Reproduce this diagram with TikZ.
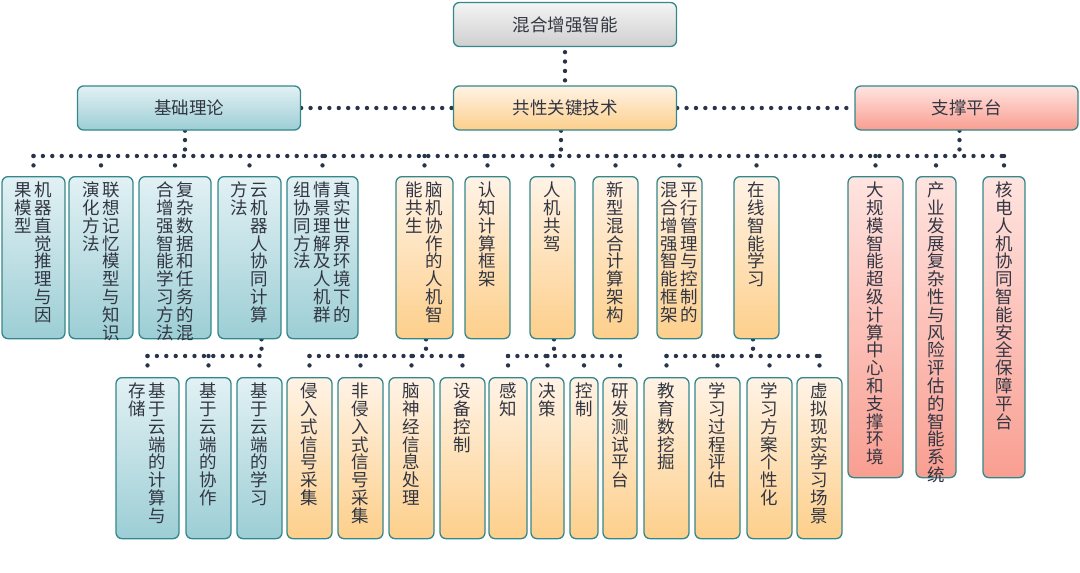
\documentclass[tikz,border=0pt]{standalone}
\usepackage{fontspec}
\setmainfont{Noto Sans CJK SC}
\usetikzlibrary{backgrounds}
\definecolor{lineTeal}{RGB}{52,135,138}
\definecolor{dotNavy}{RGB}{40,52,74}
\definecolor{txtGray}{RGB}{50,54,66}
\definecolor{blueTop}{RGB}{226,241,244}
\definecolor{blueBot}{RGB}{156,206,213}
\definecolor{orangeTop}{RGB}{255,243,230}
\definecolor{orangeBot}{RGB}{253,207,139}
\definecolor{redTop}{RGB}{255,228,224}
\definecolor{redBot}{RGB}{249,158,145}
\definecolor{grayTop}{RGB}{244,244,244}
\definecolor{grayBot}{RGB}{207,207,207}

% vertical column of characters, one per row
\makeatletter
\newcommand\colstack[1]{\vtop{\baselineskip=17.8pt\lineskiplimit=-20pt%
  \@tfor\vch:=#1\do{\hbox to 17.5pt{\hss\vch\hss}}}}
\makeatother
\newcommand\colgap{\hskip2.5pt}

\tikzset{
  box/.style={draw=lineTeal, line width=1.3pt, rounded corners=6pt, inner sep=0pt,
    text=txtGray, font=\fontsize{17.5pt}{17.8pt}\selectfont},
  headbox/.style={box, minimum width=223pt, minimum height=44pt},
  colbox/.style={box, anchor=north, minimum width=#1, text height=20pt},
  lvtwo/.style={text depth=142pt},
  lvtall/.style={text depth=281pt},
  lvthree/.style={text depth=141pt},
  fillGray/.style={top color=grayTop, bottom color=grayBot},
  fillBlue/.style={top color=blueTop, bottom color=blueBot},
  fillOrange/.style={top color=orangeTop, bottom color=orangeBot},
  fillRed/.style={top color=redTop, bottom color=redBot},
  link/.style={draw=dotNavy, line width=4.4pt, line cap=round, dash pattern=on 0pt off 9.4pt},
}

\begin{document}
\begin{tikzpicture}[x=1pt,y=-1pt]
  \useasboundingbox (0,0) rectangle (1080,573);

  % Top levels
  \node[headbox, fillGray] (root) at (565,24.5) {混合增强智能};
  \node[headbox, fillBlue] (theory) at (189,108) {基础理论};
  \node[headbox, fillOrange] (tech) at (565,108) {共性关键技术};
  \node[headbox, fillRed] (support) at (966.5,108) {支撑平台};

  % Foundation theory
  \node[colbox=63pt, lvtwo, fillBlue] (b1) at (33.5,176) {\colstack{果模型}\colgap\colstack{机器直觉推理与因}};
  \node[colbox=64pt, lvtwo, fillBlue] (b2) at (101,176) {\colstack{演化方法}\colgap\colstack{联想记忆模型与知识}};
  \node[colbox=72pt, lvtwo, fillBlue] (b3) at (175,176) {\colstack{合增强智能学习方法}\colgap\colstack{复杂数据和任务的混}};
  \node[colbox=63pt, lvtwo, fillBlue] (b4) at (249.5,176) {\colstack{方法}\colgap\colstack{云机器人协同计算}};
  \node[colbox=71pt, lvtwo, fillBlue] (b5) at (322.5,176) {\colstack{组协同方法}\colgap\colstack{情景理解及人机群}\colgap\colstack{真实世界环境下的}};

  % Key technologies
  \node[colbox=57pt, lvtwo, fillOrange] (j1) at (424.5,176) {\colstack{能共生}\colgap\colstack{脑机协作的人机智}};
  \node[colbox=45pt, lvtwo, fillOrange] (j2) at (487.5,176) {\colstack{认知计算框架}};
  \node[colbox=45pt, lvtwo, fillOrange] (j3) at (552.5,176) {\colstack{人机共驾}};
  \node[colbox=45pt, lvtwo, fillOrange] (j4) at (615.5,176) {\colstack{新型混合计算架构}};
  \node[colbox=45pt, lvtwo, fillOrange] (j5) at (679.5,176) {\colstack{混合增强智能框架}\colgap\colstack{平行管理与控制的}};
  \node[colbox=45pt, lvtwo, fillOrange] (j6) at (756.5,176) {\colstack{在线智能学习}};

  % Support platforms
  \node[colbox=55pt, lvtall, fillRed] (s1) at (875.5,176) {\colstack{大规模智能超级计算中心和支撑环境}};
  \node[colbox=40pt, lvtall, fillRed] (s2) at (936,176) {\colstack{产业发展复杂性与风险评估的智能系统}};
  \node[colbox=42pt, lvtall, fillRed] (s3) at (1004,176) {\colstack{核电人机协同智能安全保障平台}};

  % Third level
  \node[colbox=63pt, lvthree, fillBlue] (c1) at (147.5,377) {\colstack{存储}\colgap\colstack{基于云端的计算与}};
  \node[colbox=45pt, lvthree, fillBlue] (c2) at (208.5,377) {\colstack{基于云端的协作}};
  \node[colbox=45pt, lvthree, fillBlue] (c3) at (259.5,377) {\colstack{基于云端的学习}};
  \node[colbox=45pt, lvthree, fillOrange] (n1) at (309.5,377) {\colstack{侵入式信号采集}};
  \node[colbox=45pt, lvthree, fillOrange] (n2) at (360.5,377) {\colstack{非侵入式信号采集}};
  \node[colbox=45pt, lvthree, fillOrange] (n3) at (411.5,377) {\colstack{脑神经信息处理}};
  \node[colbox=45pt, lvthree, fillOrange] (n4) at (462.5,377) {\colstack{设备控制}};
  \node[colbox=38pt, lvthree, fillOrange] (d1) at (508,377) {\colstack{感知}};
  \node[colbox=33pt, lvthree, fillOrange] (d2) at (547.5,377) {\colstack{决策}};
  \node[colbox=28pt, lvthree, fillOrange] (d3) at (584,377) {\colstack{控制}};
  \node[colbox=34pt, lvthree, fillOrange] (d4) at (620,377) {\colstack{研发测试平台}};
  \node[colbox=45pt, lvthree, fillOrange] (e1) at (666.5,377) {\colstack{教育数挖掘}};
  \node[colbox=45pt, lvthree, fillOrange] (e2) at (717.5,377) {\colstack{学习过程评估}};
  \node[colbox=45pt, lvthree, fillOrange] (e3) at (769.5,377) {\colstack{学习方案个性化}};
  \node[colbox=45pt, lvthree, fillOrange] (e4) at (819.5,377) {\colstack{虚拟现实学习场景}};

  % Dotted connectors
  \begin{scope}[on background layer]
    \coordinate (busTop) at (0,156);
    \coordinate (busLow) at (0,356);
    \coordinate (theoryDrop) at ([xshift=-4pt]theory.south);
    \coordinate (techDrop) at ([xshift=-4pt]tech.south);
    \coordinate (supportDrop) at ([xshift=-7pt]support.south);
    \coordinate (cloudDrop) at ([xshift=12pt]b4.south);
    \coordinate (brainDrop) at ([xshift=1.5pt]j1.south);
    \coordinate (driveDrop) at ([xshift=1.5pt]j3.south);
    \coordinate (learnDrop) at ([xshift=-3.5pt]j6.south);

    \draw[link, shorten <=5pt] (root.south) -- (tech.north);
    \draw[link] (theory.east) -- (tech.west);
    \draw[link] (tech.east) -- (support.west);

    \draw[link] (b1.north |- busTop) -- (s3.north |- busTop);
    \foreach \p in {theoryDrop,techDrop,supportDrop}
      \draw[link] (\p) -- (\p |- busTop);
    \foreach \c in {b1,b2,b3,b4,b5,j1,j2,j3,j4,j5,j6,s1,s2,s3}
      \draw[link, shorten >=5pt] (\c.north |- busTop) -- (\c.north);

    \draw[link] (c1.north |- busLow) -- (c3.north |- busLow);
    \draw[link] (n1.north |- busLow) -- (n4.north |- busLow);
    \draw[link] (d1.north |- busLow) -- (d4.north |- busLow);
    \draw[link] (e1.north |- busLow) -- (e4.north |- busLow);
    \foreach \p in {cloudDrop,brainDrop,driveDrop,learnDrop}
      \draw[link] (\p) -- (\p |- busLow);
    \foreach \c in {c1,c2,c3,n1,n2,n3,n4,d1,d2,d3,d4,e1,e2,e3,e4}
      \draw[link, shorten >=5pt] (\c.north |- busLow) -- (\c.north);
  \end{scope}
\end{tikzpicture}
\end{document}
